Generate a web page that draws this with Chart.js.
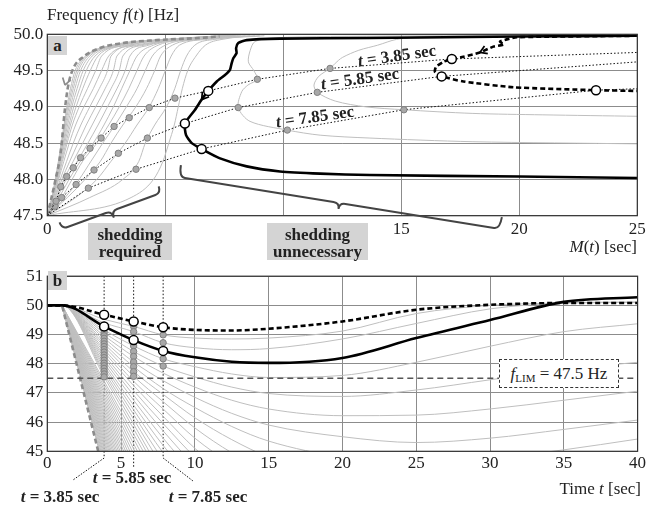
<!DOCTYPE html>
<html><head><meta charset="utf-8">
<script src="https://cdn.jsdelivr.net/npm/chart.js@4/dist/chart.umd.min.js"></script>
<style>
html,body{margin:0;padding:0;background:#fff;}
#wrap{position:relative;width:665px;height:506px;overflow:hidden;font-family:"Liberation Serif","Times New Roman",serif;color:#222;}
canvas{position:absolute;left:0;}
.t{position:absolute;white-space:nowrap;font-size:17px;line-height:20px;height:20px;}
.box{position:absolute;background:#d4d4d4;font-weight:bold;font-size:17px;text-align:center;}
.sb{position:absolute;background:#d4d4d4;font-weight:bold;font-size:17px;line-height:17px;height:34px;padding-top:3px;text-align:center;}
.rl{position:absolute;transform:translate(-50%,-50%) rotate(-8deg);font-weight:bold;font-size:17px;white-space:nowrap;line-height:20px;}
.bl{position:absolute;transform:translate(-50%,-50%);font-weight:bold;font-size:17px;white-space:nowrap;line-height:20px;}
.flim{position:absolute;left:499px;top:359px;width:118px;height:27px;border:1px dashed #333;background:#fff;font-size:17px;line-height:27px;text-align:center;white-space:nowrap;}
.flim sub{font-size:11px;vertical-align:-3px;line-height:0;}
</style></head><body>
<div id="wrap">
<canvas id="ca" width="665" height="262" style="top:0;width:665px;height:262px"></canvas>
<canvas id="cb" width="665" height="244" style="top:262px;width:665px;height:244px"></canvas>
<div class="t" style="left:47px;top:5px">Frequency <i>f</i>(<i>t</i>) [Hz]</div>
<div class="t" style="right:28px;top:237px"><i>M</i>(<i>t</i>) [sec]</div>
<div class="t" style="right:24px;top:479px">Time <i>t</i> [sec]</div>
<div class="box" style="left:48px;top:36px;width:19px;height:19px;line-height:19px;">a</div>
<div class="box" style="left:48px;top:271px;width:19px;height:19px;line-height:19px;">b</div>
<div class="sb" style="left:88px;top:223px;width:84px;">shedding<br>required</div>
<div class="sb" style="left:267px;top:223px;width:101px;">shedding<br>unnecessary</div>
<div class="rl" style="left:397px;top:56px"><i>t</i> = 3.85 sec</div>
<div class="rl" style="left:360px;top:79px"><i>t</i> = 5.85 sec</div>
<div class="rl" style="left:315px;top:117px"><i>t</i> = 7.85 sec</div>
<div class="bl" style="left:60px;top:497px"><i>t</i> = 3.85 sec</div>
<div class="bl" style="left:132px;top:478px"><i>t</i> = 5.85 sec</div>
<div class="bl" style="left:208px;top:497px"><i>t</i> = 7.85 sec</div>
<div class="flim"><i>f</i><sub>LIM</sub> = 47.5 Hz</div>
</div>
<script>
// ===================== DATA =====================
// Panel a: frequency grid for the fan of trajectories (f in Hz) and M(t) values (sec)
const fGridA = [47.5, 47.75, 48.0, 48.25, 48.5, 48.75, 49.0, 49.25, 49.5, 49.7, 49.85, 49.93, 49.98];
const fanCurvesA = [
  [0, 3.55, 4.5, 4.9, 5.15, 5.38, 5.55, 5.72, 5.95, 6.3, 6.7, 7.4, 9.2],
  [0, 1.8, 3.2, 3.88, 4.15, 4.55, 5.05, 5.4, 5.65, 5.9, 6.25, 7.1, 9.0],
  [0, 1.2, 2.1, 2.7, 3.3, 3.8, 4.32, 4.7, 5.0, 5.25, 5.6, 6.8, 8.8],
  [0, 0.85, 1.6, 2.25, 2.7, 3.2, 3.75, 4.2, 4.55, 4.8, 5.3, 6.5, 8.6],
  [0, 0.75, 1.35, 1.85, 2.35, 2.87, 3.35, 3.8, 4.15, 4.45, 5.0, 6.3, 8.4],
  [0, 0.61, 1.05, 1.5, 2.1, 2.6, 3.05, 3.45, 3.8, 4.1, 4.7, 6.15, 8.2],
  [0, 0.5, 0.92, 1.4, 1.95, 2.4, 2.8, 3.15, 3.5, 3.8, 4.5, 6.0, 8.1],
  [0, 0.42, 0.8, 1.27, 1.72, 2.15, 2.55, 2.95, 3.3, 3.5, 4.3, 5.85, 8.0],
  [0, 0.37, 0.7, 1.1, 1.5, 1.9, 2.3, 2.7, 3.05, 3.2, 4.1, 5.7, 7.95],
  [0, 0.33, 0.62, 0.95, 1.3, 1.65, 2.05, 2.45, 2.8, 2.95, 3.9, 5.6, 7.9],
  [0, 0.3, 0.55, 0.82, 1.1, 1.42, 1.8, 2.2, 2.55, 2.7, 3.7, 5.5, 7.85],
  [0, 0.27, 0.48, 0.7, 0.93, 1.2, 1.55, 1.95, 2.3, 2.6, 3.55, 5.4, 7.8],
  [0, 0.25, 0.45, 0.64, 0.84, 1.06, 1.35, 1.7, 2.05, 2.3, 3.42, 5.35, 7.75],
  [0, 0.24, 0.43, 0.6, 0.79, 0.98, 1.22, 1.5, 1.82, 2.15, 3.28, 5.3, 7.7],
  [0, 0.23, 0.41, 0.57, 0.74, 0.92, 1.12, 1.37, 1.65, 2.02, 3.15, 5.25, 7.65],
  [0, 0.22, 0.39, 0.54, 0.7, 0.86, 1.04, 1.26, 1.52, 1.9, 3.05, 5.2, 7.6],
  [0, 0.21, 0.38, 0.52, 0.67, 0.81, 0.98, 1.17, 1.41, 1.8, 2.95, 5.15, 7.55],
  [0, 0.2, 0.36, 0.5, 0.64, 0.77, 0.92, 1.1, 1.32, 1.72, 2.87, 5.1, 7.5],
  [0, 0.2, 0.35, 0.48, 0.61, 0.74, 0.87, 1.04, 1.25, 1.66, 2.8, 5.05, 7.45],
  [0, 0.19, 0.34, 0.47, 0.59, 0.71, 0.83, 0.98, 1.18, 1.62, 2.75, 5.0, 7.4]
];
const dashGrayAM = [0, 0.33, 0.57, 0.75, 0.89, 1.1, 1.53, 2.23, 3.22, 4.64, 6.47, 7.3];
const dashGrayAF = [47.5, 47.97, 48.38, 48.98, 49.3, 49.53, 49.69, 49.81, 49.88, 49.92, 49.95, 49.97];
const g1AM = [25, 16, 14.8, 14.0, 13.2, 12.5, 12.2, 11.98, 11.5, 11.3, 11.44, 12.2, 13.5, 15.11, 18, 21, 25];
const g1AF = [49.99, 49.97, 49.93, 49.85, 49.78, 49.68, 49.6, 49.53, 49.42, 49.3, 49.2, 49.08, 49.0, 48.96, 48.91, 48.89, 48.87];
const g2AM = [25, 12, 9.6, 8.8, 8.6, 8.52, 8.75, 8.9, 8.5, 8.24, 8.09, 8.59, 10.17, 11.56, 13.67, 18, 25];
const g2AF = [49.99, 49.97, 49.95, 49.9, 49.78, 49.62, 49.5, 49.38, 49.3, 49.21, 48.99, 48.8, 48.68, 48.61, 48.57, 48.52, 48.49];
const solidAM = [25, 20, 13.67, 9.86, 8.45, 8.09, 8.0, 8.02, 7.88, 7.81, 7.74, 7.53, 7.18, 6.82, 6.54, 6.26, 5.83, 5.88, 6.12, 6.54, 7.32, 8.45, 9.86, 11.56, 13.67, 20, 25];
const solidAF = [49.98, 49.97, 49.95, 49.94, 49.92, 49.88, 49.81, 49.74, 49.67, 49.6, 49.51, 49.44, 49.35, 49.22, 49.1, 48.96, 48.77, 48.61, 48.5, 48.42, 48.29, 48.18, 48.11, 48.08, 48.06, 48.04, 48.02];
const solidACircles = [13, 16, 19];
const dashedAM = [25, 19.89, 19.47, 19.18, 19.35, 18.9, 18.33, 17.63, 17.14, 16.78, 16.47, 16.43, 16.71, 17.63, 19.75, 23.25, 25];
const dashedAF = [49.98, 49.96, 49.93, 49.9, 49.86, 49.83, 49.75, 49.69, 49.66, 49.62, 49.55, 49.48, 49.42, 49.35, 49.27, 49.23, 49.22];
const dashedACircles = [8, 12, 15];
const iso385M = [0, 0.37, 0.57, 0.82, 1.1, 1.41, 1.81, 2.28, 2.83, 3.47, 4.32, 5.41, 6.82, 8.9, 11.98, 17.14, 25];
const iso385F = [47.5, 47.7, 47.9, 48.04, 48.16, 48.3, 48.43, 48.57, 48.73, 48.85, 48.99, 49.12, 49.22, 49.38, 49.53, 49.66, 49.75];
const iso585M = [0, 0.33, 0.61, 1.22, 1.98, 3.01, 4.24, 5.83, 8.09, 11.44, 16.71, 25];
const iso585F = [47.5, 47.63, 47.75, 47.93, 48.13, 48.36, 48.57, 48.77, 48.99, 49.2, 49.42, 49.62];
const iso785M = [0, 1.74, 3.76, 6.54, 10.17, 15.11, 23.25, 25];
const iso785F = [47.5, 47.88, 48.14, 48.42, 48.68, 48.96, 49.23, 49.25];
// direction arrows on trajectories: [tip M, tip f, tail M, tail f]
const arrowsA = [[0.75, 49.3, 0.95, 49.55], [6.54, 49.1, 6.82, 49.22], [18.33, 49.75, 18.9, 49.83]];

// Panel b: time grid (sec) and frequency curves (Hz)
const tB = [0, 1, 3.85, 5.85, 7.85, 10, 12.5, 15, 20, 25, 30, 35, 40];
const dashedB = [50, 50, 49.68, 49.45, 49.25, 49.16, 49.14, 49.2, 49.45, 49.85, 50.02, 50.08, 50.08];
const solidB  = [50, 50, 49.28, 48.81, 48.44, 48.22, 48.07, 48.03, 48.2, 48.88, 49.5, 50.12, 50.28];
const grayCurvesB = [
  [50,50,49.52,49.28,48.99,48.88,48.85,48.88,49.12,49.72,50.0,50.08,50.1],
  [50,50,49.4,49.1,48.72,48.55,48.48,48.52,48.85,49.38,49.88,50.08,50.12],
  [50,50,49.15,48.61,48.17,47.9,47.65,47.53,47.6,48.05,48.6,49.1,49.37],
  [50,50,49.06,48.42,47.92,47.55,47.2,46.98,46.88,47.1,47.45,47.8,48.05],
  [50,50,48.96,48.25,47.68,47.2,46.75,46.45,46.22,46.24,46.45,46.75,47.06],
  [50,50,48.87,48.06,47.42,46.85,46.3,45.9,45.5,45.3,45.45,45.75,46.07],
  [50,50,48.77,47.9,47.15,46.5,45.85,45.35,44.8,44.6,44.75,45.05,45.42],
  [50,50,48.68,47.73,46.95,46.15,45.4,44.8,44.0,43.6,43.6,43.8,44.1],
  [50,50,48.59,47.57,46.7,45.8,44.95,44.3,43.3,42.8,42.7,42.8,43.0],
  [50,50,48.49,47.4,46.45,45.45,44.55,43.8,42.6,41.8,41.4,41.2,41.1],
  [50,50,48.4,47.25,46.2,45.1,44.1,43.3,42.0,41.1,40.6,40.4,40.3],
  [50,50,48.3,47.08,45.95,44.8,43.7,42.8,41.4,40.5,40.0,39.7,39.6],
  [50,50,48.21,46.92,45.7,44.5,43.3,42.3,40.8,39.8,39.3,39.0,38.9],
  [50,50,48.12,46.75,45.45,44.2,42.9,41.9,40.2,39.2,38.6,38.3,38.2],
  [50,50,48.02,46.58,45.2,43.9,42.5,41.4,39.6,38.5,37.9,37.6,37.5],
  [50,50,47.93,46.42,44.95,43.6,42.1,41.0,39.0,37.9,37.2,36.9,36.8],
  [50,50,47.84,46.26,44.7,43.3,41.7,40.5,38.4,37.2,36.5,36.2,36.1],
  [50,50,47.74,46.1,44.45,43.0,41.3,40.0,37.8,36.5,35.8,35.5,35.4],
  [50,50,47.65,45.93,44.2,42.7,40.9,39.6,37.2,35.9,35.1,34.8,34.7],
  [50,50,47.55,45.77,44.0,42.4,40.5,39.1,36.6,35.2,34.4,34.1,34.0]
];
// steep fan: time (sec) at which each curve reaches 45 Hz
const fanEndB = [3.52,3.58,3.64,3.7,3.76,3.82,3.89,3.96,4.03,4.1,4.18,4.26,4.34,4.43,4.52,4.62,4.72,4.83,4.94,5.06,5.18,5.31,5.45,5.6,5.76,5.93,6.11,6.3,6.5];
const steepT = [0, 1, 3.45];
const steepF = [50, 50, 45];
const fLim = 47.5;
const tMarks = [3.85, 5.85, 7.85];
const markersB = [
  [49.15,49.06,48.96,48.87,48.77,48.68,48.59,48.49,48.4,48.3,48.21,48.12,48.02,47.93,47.84,47.74,47.65,47.55],
  [49.28,49.1,48.61,48.42,48.25,48.06,47.9,47.73,47.57],
  [48.99,48.72,48.17,47.92]
];
const circleIdxB = [2, 3, 4];
const ticksA_y = [47.5, 48.0, 48.5, 49.0, 49.5, 50.0];
const ticksB_y = [45, 46, 47, 48, 49, 50, 51];

// ===================== CHARTS =====================
Chart.defaults.font.family = "'Liberation Serif','Times New Roman',serif";
Chart.defaults.font.size = 17;
Chart.defaults.color = '#333';
Chart.defaults.animation = false;

const GRAY = '#bfbfbf';
const xy = (xs, ys) => xs.map((x, i) => ({x, y: ys[i]}));
function ln(data, o) {
  return Object.assign({data, showLine: true, pointRadius: 0, borderWidth: 1, borderColor: GRAY,
    fill: false, tension: 0, order: 20}, o || {});
}
function scales(xmin, xmax, xstep, ymin, ymax, ystep, yfmt, axisH, xpad) {
  return {
    x: {type: 'linear', min: xmin, max: xmax,
      ticks: {stepSize: xstep, autoSkip: false, maxRotation: 0, padding: xpad, color: '#222'},
      grid: {color: '#8c8c8c', lineWidth: 1, drawTicks: false}, border: {display: false},
      afterFit: s => { s.height = axisH; }},
    y: {type: 'linear', min: ymin, max: ymax,
      ticks: {stepSize: ystep, autoSkip: false, padding: 4, color: '#222', callback: yfmt},
      grid: {color: '#8c8c8c', lineWidth: 1, drawTicks: false}, border: {display: false},
      afterFit: s => { s.width = 47.3; }}
  };
}
function frame(chart) {
  const {ctx, chartArea: a} = chart;
  ctx.save(); ctx.setLineDash([]); ctx.strokeStyle = '#333'; ctx.lineWidth = 1.2;
  ctx.strokeRect(a.left, a.top, a.right - a.left, a.bottom - a.top); ctx.restore();
}
function chevron(ctx, x, y, dx, dy, color) {
  const L = Math.hypot(dx, dy), ux = dx / L, uy = dy / L, s = 8, ang = 0.55;
  ctx.save(); ctx.setLineDash([]); ctx.strokeStyle = color; ctx.lineWidth = 1.7; ctx.beginPath();
  for (const sg of [1, -1]) {
    const c = Math.cos(ang), si = Math.sin(ang) * sg;
    const bx = -(ux * c - uy * si), by = -(uy * c + ux * si);
    ctx.moveTo(x, y); ctx.lineTo(x + bx * s, y + by * s);
  }
  ctx.stroke(); ctx.restore();
}
function brace(ctx, ax, ay, bx, by, hook, bump) {
  const L = Math.hypot(bx - ax, by - ay), ang = Math.atan2(by - ay, bx - ax), r = 6;
  ctx.save(); ctx.translate(ax, ay); ctx.rotate(ang);
  ctx.strokeStyle = '#444'; ctx.lineWidth = 2; ctx.setLineDash([]); ctx.beginPath();
  ctx.moveTo(0, -hook); ctx.quadraticCurveTo(0, 0, r, 0);
  ctx.lineTo(L / 2 - r, 0); ctx.quadraticCurveTo(L / 2, 0, L / 2, bump);
  ctx.quadraticCurveTo(L / 2, 0, L / 2 + r, 0);
  ctx.lineTo(L - r, 0); ctx.quadraticCurveTo(L, 0, L, -hook);
  ctx.stroke(); ctx.restore();
}

// ---------- Panel a ----------
const dsA = [];
fanCurvesA.forEach(m => dsA.push(ln(xy(m, fGridA), {cubicInterpolationMode: 'monotone'})));
dsA.push(ln(xy(g1AM, g1AF), {tension: 0.3, order: 18}));
dsA.push(ln(xy(g2AM, g2AF), {tension: 0.3, order: 18}));
dsA.push(ln(xy(dashGrayAM, dashGrayAF), {borderColor: '#8c8c8c', borderWidth: 2.6, borderDash: [5, 3], cubicInterpolationMode: 'monotone', order: 15}));
const isoPt = c => (c.dataIndex === 0 || c.dataIndex === c.dataset.data.length - 1) ? 0 : 3.2;
[[iso385M, iso385F], [iso585M, iso585F], [iso785M, iso785F]].forEach(([m, f]) =>
  dsA.push(ln(xy(m, f), {borderColor: '#111', borderWidth: 1, borderDash: [1.5, 2],
    pointRadius: isoPt, pointBackgroundColor: '#a8a8a8', pointBorderColor: '#808080', pointBorderWidth: 1, order: 8})));
dsA.push(ln(xy(solidAM, solidAF), {borderColor: '#000', borderWidth: 2.6, tension: 0.2, order: 4}));
dsA.push(ln(xy(dashedAM, dashedAF), {borderColor: '#000', borderWidth: 2.6, borderDash: [5, 3], tension: 0.2, order: 4}));
dsA.push({data: solidACircles.map(i => ({x: solidAM[i], y: solidAF[i]})).concat(dashedACircles.map(i => ({x: dashedAM[i], y: dashedAF[i]}))),
  showLine: false, pointRadius: 4.5, pointBackgroundColor: '#fff', pointBorderColor: '#000', pointBorderWidth: 1.5, order: 1});

new Chart(document.getElementById('ca'), {
  type: 'scatter',
  data: {datasets: dsA},
  options: {
    responsive: false, devicePixelRatio: 1, events: [],
    layout: {padding: {left: 0, top: 34.3, right: 27.7, bottom: 0}},
    plugins: {legend: {display: false}, tooltip: {enabled: false}},
    scales: scales(0, 25, 5, 47.5, 50, 0.5, v => ticksA_y.includes(v) ? v.toFixed(1) : '', 46.3, 4)
  },
  plugins: [{id: 'adeco', afterDatasetsDraw(chart) {
    const {ctx, scales: {x, y}} = chart;
    frame(chart);
    const cols = ['#8c8c8c', '#000', '#000'];
    arrowsA.forEach((a, i) => {
      const px = x.getPixelForValue(a[0]), py = y.getPixelForValue(a[1]);
      const qx = x.getPixelForValue(a[2]), qy = y.getPixelForValue(a[3]);
      chevron(ctx, px, py, px - qx, py - qy, cols[i]);
    });
    // braces below the M(t) axis
    brace(ctx, x.getPixelForValue(0.62), 229, x.getPixelForValue(4.82), 193, 7, 7);
    brace(ctx, x.getPixelForValue(5.58), 177, x.getPixelForValue(19.18), 229, 12, 6);
  }}]
});

// ---------- Panel b ----------
const dsB = [];
fanEndB.forEach(te => dsB.push(ln([{x: 0, y: 50}, {x: 1, y: 50}, {x: te, y: 45}])));
grayCurvesB.forEach(c => dsB.push(ln(xy(tB, c), {cubicInterpolationMode: 'monotone'})));
dsB.push(ln(xy(steepT, steepF), {borderColor: '#8c8c8c', borderWidth: 2.6, borderDash: [5, 3], order: 15}));
dsB.push(ln([{x: 0, y: fLim}, {x: 40, y: fLim}], {borderColor: '#555', borderWidth: 1.5, borderDash: [6, 4], order: 9}));
markersB.forEach((vals, k) => dsB.push({data: vals.map(v => ({x: tMarks[k], y: v})), showLine: false,
  pointRadius: 3.2, pointBackgroundColor: '#a8a8a8', pointBorderColor: '#808080', pointBorderWidth: 1, order: 7}));
dsB.push(ln(xy(tB, solidB), {borderColor: '#000', borderWidth: 2.6, cubicInterpolationMode: 'monotone', order: 4}));
dsB.push(ln(xy(tB, dashedB), {borderColor: '#000', borderWidth: 2.6, borderDash: [5, 3], cubicInterpolationMode: 'monotone', order: 4}));
dsB.push({data: circleIdxB.map(i => ({x: tB[i], y: solidB[i]})).concat(circleIdxB.map(i => ({x: tB[i], y: dashedB[i]}))),
  showLine: false, pointRadius: 4.5, pointBackgroundColor: '#fff', pointBorderColor: '#000', pointBorderWidth: 1.5, order: 1});

new Chart(document.getElementById('cb'), {
  type: 'scatter',
  data: {datasets: dsB},
  options: {
    responsive: false, devicePixelRatio: 1, events: [],
    layout: {padding: {left: 0, top: 7, right: 27.4, bottom: 0}},
    plugins: {legend: {display: false}, tooltip: {enabled: false}},
    scales: scales(0, 40, 5, 45, 51, 1, v => ticksB_y.includes(v) ? String(v) : '', 54.7, 2)
  },
  plugins: [{id: 'bdeco',
    beforeDatasetsDraw(chart) {
      const {ctx, chartArea: a, scales: {x}} = chart;
      ctx.save(); ctx.strokeStyle = '#111'; ctx.lineWidth = 1; ctx.setLineDash([1.5, 2]);
      const ends = [196, 205, 196];
      tMarks.forEach((t, i) => {
        const px = x.getPixelForValue(t);
        ctx.beginPath(); ctx.moveTo(px, a.top); ctx.lineTo(px, ends[i]); ctx.stroke();
      });
      const p1 = x.getPixelForValue(tMarks[0]), p3 = x.getPixelForValue(tMarks[2]);
      ctx.setLineDash([1.5, 1.5]);
      ctx.beginPath(); ctx.moveTo(p1, 196); ctx.lineTo(73, 218); ctx.stroke();
      ctx.beginPath(); ctx.moveTo(p3, 196); ctx.lineTo(193, 219); ctx.stroke();
      ctx.restore();
    },
    afterDatasetsDraw(chart) { frame(chart); }
  }]
});
</script>
</body></html>
